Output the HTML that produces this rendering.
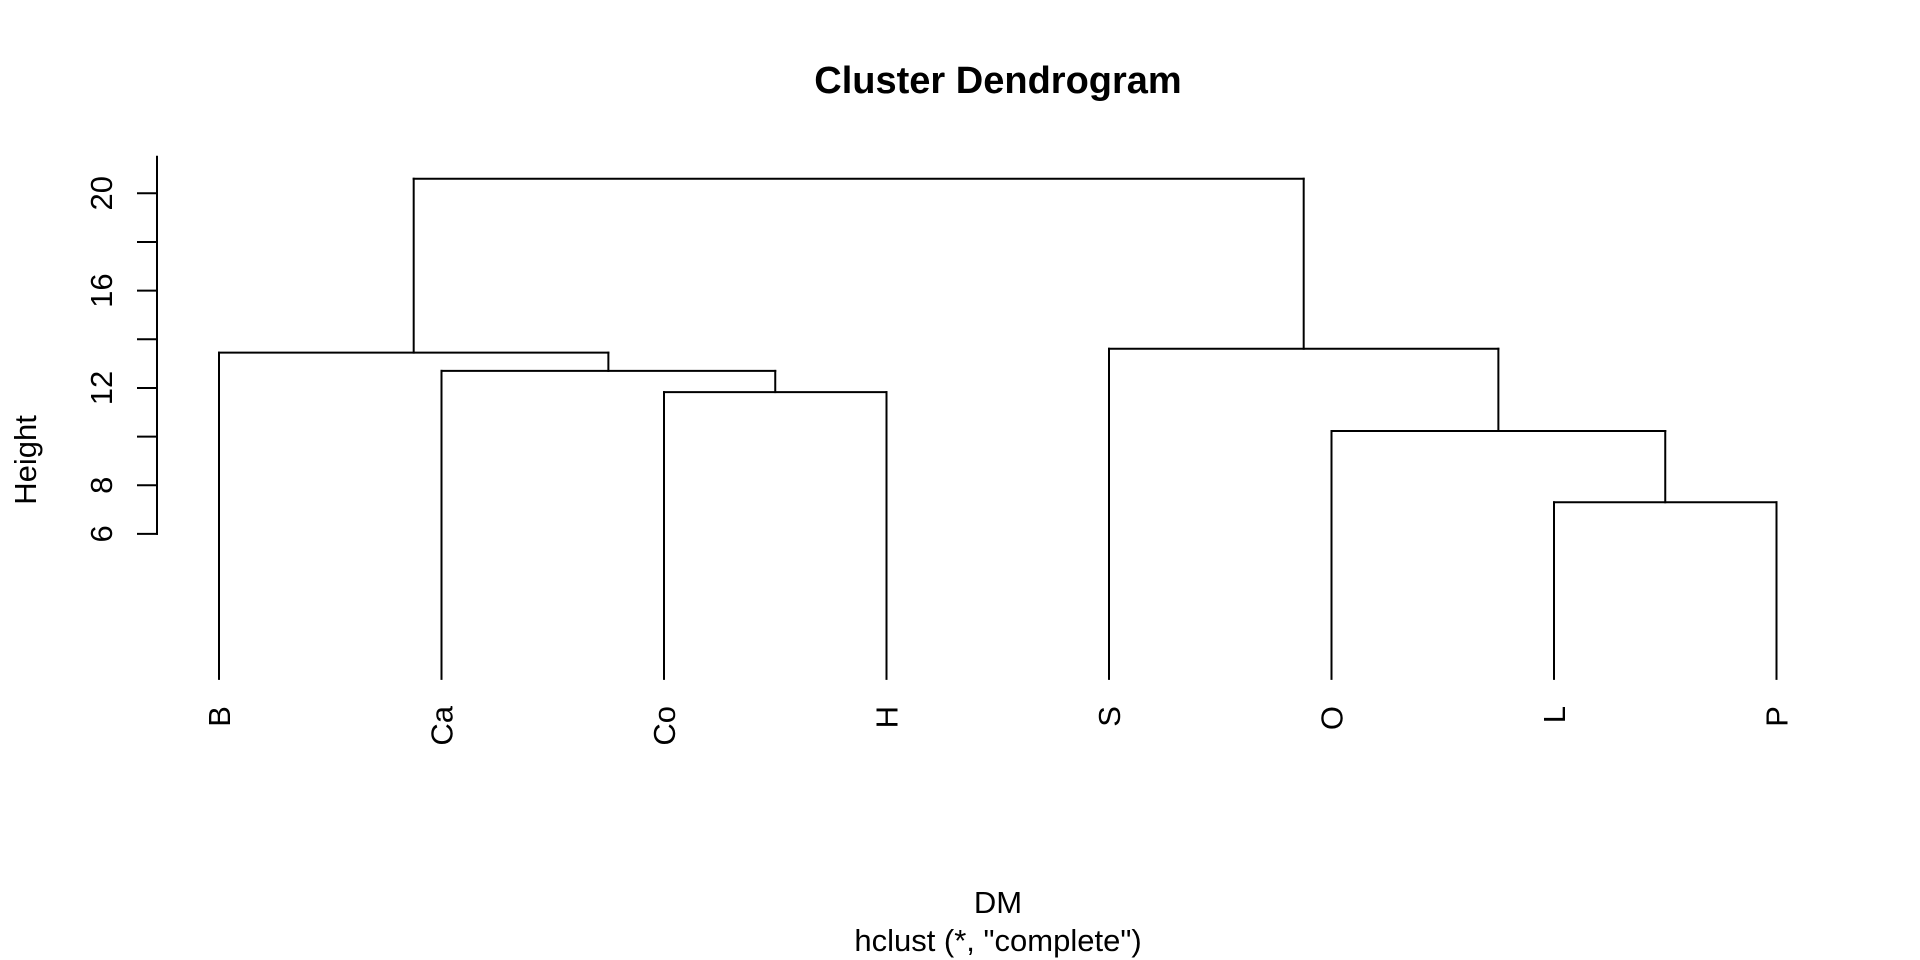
<!DOCTYPE html>
<html><head><meta charset="utf-8"><style>
html,body{margin:0;padding:0;background:#fff;}
svg{display:block;font-family:"Liberation Sans",Arial,sans-serif;}
</style></head><body>
<svg id="chart" width="1920" height="960" viewBox="0 0 1920 960" xmlns="http://www.w3.org/2000/svg">
<text x="998" y="93" text-anchor="middle" font-size="38" font-weight="bold">Cluster Dendrogram</text>
<text x="998" y="913" text-anchor="middle" font-size="31">DM</text>
<text x="998" y="951" text-anchor="middle" font-size="31">hclust (*, "complete")</text>
<text x="36" y="460" text-anchor="middle" font-size="31" transform="rotate(-90 36 460)">Height</text>
<g id="axis"></g>
<g id="tree"></g>
<g id="labels"></g>
</svg>
<script>
const leafLabels = ["B","Ca","Co","H","S","O","L","P"];
// merges: negative = leaf index (1-based), positive = merge index (1-based)
const mergeLeft = [-3, -7, -2, -6, -1, -5, 5];
const mergeRight = [-4, -8, 1, 2, 3, 4, 6];
const mergeHeights = [11.83, 7.3, 12.7, 10.23, 13.45, 13.61, 20.6];
const tickValues = [6, 8, 10, 12, 14, 16, 18, 20];
const tickLabels = ["6", "8", "", "12", "", "16", "", "20"];
const leafBottom = 0.04;
const axisTop = 21.5;

const NS = "http://www.w3.org/2000/svg";
const xScale = i => 219 + i * 222.5;
const yScale = v => 193.3 - (v - 20) * 24.33;

function line(g, x1, y1, x2, y2) {
  const l = document.createElementNS(NS, "line");
  l.setAttribute("x1", x1); l.setAttribute("y1", y1);
  l.setAttribute("x2", x2); l.setAttribute("y2", y2);
  l.setAttribute("stroke", "#000"); l.setAttribute("stroke-width", "2");
  l.setAttribute("stroke-linecap", "square");
  g.appendChild(l);
  return l;
}

const axis = document.getElementById("axis");
const ax = line(axis, 157, yScale(6), 157, yScale(axisTop));


tickValues.forEach((v, i) => {
  const t = line(axis, 138, yScale(v), 157, yScale(v));
  
  
  if (tickLabels[i]) {
    const tx = document.createElementNS(NS, "text");
    const y = yScale(v);
    tx.setAttribute("x", 112); tx.setAttribute("y", y);
    tx.setAttribute("text-anchor", "middle");
    tx.setAttribute("font-size", "31");
    tx.setAttribute("transform", `rotate(-90 112 ${y})`);
    tx.textContent = tickLabels[i];
    
    
    axis.appendChild(tx);
  }
});

const tree = document.getElementById("tree");
const mergeX = [];
function nodePos(ref) {
  if (ref < 0) return { x: xScale(-ref - 1), h: leafBottom };
  return { x: mergeX[ref - 1], h: mergeHeights[ref - 1] };
}
mergeHeights.forEach((h, i) => {
  const a = nodePos(mergeLeft[i]);
  const b = nodePos(mergeRight[i]);
  mergeX[i] = (a.x + b.x) / 2;
  const g = document.createElementNS(NS, "g");
  
  
  line(g, a.x, yScale(a.h), a.x, yScale(h));
  line(g, a.x, yScale(h), b.x, yScale(h));
  line(g, b.x, yScale(h), b.x, yScale(b.h));
  tree.appendChild(g);
});

const labels = document.getElementById("labels");
leafLabels.forEach((lab, i) => {
  const x = xScale(i) + 11, y = 706;
  const t = document.createElementNS(NS, "text");
  t.setAttribute("x", x); t.setAttribute("y", y);
  t.setAttribute("text-anchor", "end");
  t.setAttribute("font-size", "31");
  t.setAttribute("transform", `rotate(-90 ${x} ${y})`);
  t.textContent = lab;
  
  
  labels.appendChild(t);
});
</script>
</body></html>
